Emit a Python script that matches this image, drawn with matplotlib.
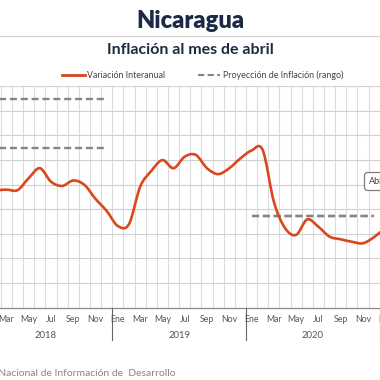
import matplotlib
matplotlib.use("Agg")
import matplotlib.pyplot as plt
from matplotlib.path import Path
from matplotlib.patches import PathPatch, FancyBboxPatch
from matplotlib.lines import Line2D
import matplotlib.transforms as mtransforms

plt.rcParams['font.family'] = ['Lato', 'DejaVu Sans']

# monthly data, Ene 2018 .. Ene 2021
meses = ['Ene', 'Feb', 'Mar', 'Abr', 'May', 'Jun', 'Jul', 'Ago', 'Sep', 'Oct', 'Nov', 'Dic']
anios = ['2018', '2019', '2020']
variacion = [4.83, 4.78, 4.80, 4.78, 5.27, 5.67, 5.12, 4.95, 5.17, 4.99, 4.42, 3.93,
             3.32, 3.40, 4.92, 5.56, 6.00, 5.67, 6.14, 6.21, 5.67, 5.43, 5.67, 6.07,
             6.39, 6.41, 4.31, 3.24, 2.96, 3.59, 3.29, 2.89, 2.78, 2.68, 2.62, 2.87,
             3.24]
# projection range (month index start, end, low, high)
proy_2018 = (0, 11, 6.49, 8.50)
proy_2020 = (24, 35, 3.73, 3.73)

naranja = '#d9481c'
gris_proy = '#858585'
azul = '#1c2a44'

fig = plt.figure(figsize=(3.8, 3.8), dpi=100)
ax = fig.add_axes([0.0, 0.1903, 1.0, 0.5826])
ax.set_xlim(1.418, 35.53)
ax.set_ylim(0, 9)

# grid
for k in range(-1, 37):
    ax.axvline(k + 0.5, color='#dcdcdc', lw=0.8, zorder=0)
for v in range(1, 10):
    ax.axhline(v, color='#d0d0d0', lw=0.8, zorder=0)
for s in ['top', 'left', 'right']:
    ax.spines[s].set_visible(False)
ax.spines['bottom'].set_color('#8c8c8c')
ax.spines['bottom'].set_linewidth(0.9)
ax.set_xticks([])
ax.set_yticks([])

# smooth line like the spreadsheet (bezier through the points)
xs = list(range(len(variacion)))
verts = [(xs[0], variacion[0])]
codes = [Path.MOVETO]
n = len(variacion)
for i in range(n - 1):
    p0 = (xs[max(i - 1, 0)], variacion[max(i - 1, 0)])
    p1 = (xs[i], variacion[i])
    p2 = (xs[i + 1], variacion[i + 1])
    p3 = (xs[min(i + 2, n - 1)], variacion[min(i + 2, n - 1)])
    c1 = (p1[0] + (p2[0] - p0[0]) / 6, p1[1] + (p2[1] - p0[1]) / 6)
    c2 = (p2[0] - (p3[0] - p1[0]) / 6, p2[1] - (p3[1] - p1[1]) / 6)
    verts += [c1, c2, p2]
    codes += [Path.CURVE4] * 3
ax.add_patch(PathPatch(Path(verts, codes), facecolor='none', edgecolor=naranja,
                       lw=1.9, capstyle='round', joinstyle='round', zorder=3))

for a, b, lo, hi in [proy_2018, proy_2020]:
    for yv in (lo, hi):
        ax.plot([a, b], [yv, yv], color=gris_proy, lw=1.7,
                linestyle=(0, (3, 1.6)), zorder=2)

# x labels
trans = mtransforms.blended_transform_factory(ax.transData, fig.transFigure)
for m in range(0, 37, 2):
    fig.text(m, 1 - 320 / 380, meses[m % 12], transform=trans, fontsize=6.3,
             color='#555555', ha='center', va='center')
for j, an in enumerate(anios):
    fig.text(j * 12 + 5.5, 1 - 336 / 380, an, transform=trans, fontsize=6.8,
             color='#555555', ha='center', va='center')
for sep in [-0.5, 11.5, 23.5, 35.5]:
    fig.add_artist(Line2D([sep, sep], [1 - 307.7 / 380, 1 - 340 / 380],
                          transform=trans, color='#666666', lw=0.8))

# annotation box cut at the right edge
fig.add_artist(FancyBboxPatch((364.5 / 380, 1 - 190.5 / 380), 40 / 380, 18 / 380,
                              boxstyle='round,pad=0,rounding_size=0.008',
                              transform=fig.transFigure, facecolor='white',
                              edgecolor='#7f7f7f', lw=0.9, zorder=5))
fig.text(369 / 380, 1 - 181.5 / 380, 'Abril', fontsize=6.5, color='#444444',
         ha='left', va='center', zorder=6)

# titles
fig.text(0.5, 1 - 21 / 380, 'Nicaragua', fontsize=17, fontweight='heavy',
         color=azul, ha='center', va='center')
fig.add_artist(Line2D([0, 1], [1 - 36 / 380, 1 - 36 / 380], color='#d0d0d0', lw=0.8))
fig.text(0.5, 1 - 50 / 380, 'Inflación al mes de abril', fontsize=11.5,
         fontweight='bold', color=azul, ha='center', va='center')

# legend
ly = 1 - 75 / 380
fig.add_artist(Line2D([62 / 380, 85 / 380], [ly, ly], color=naranja, lw=2))
fig.text(87 / 380, ly, 'Variación Interanual', fontsize=6.4, color='#444444',
         ha='left', va='center')
fig.add_artist(Line2D([198 / 380, 220 / 380], [ly, ly], color=gris_proy, lw=1.5,
                      linestyle=(0, (3, 1.6))))
fig.text(223 / 380, ly, 'Proyección de Inflación (rango)', fontsize=6.4,
         color='#444444', ha='left', va='center')

# source
fig.text(175 / 380, 1 - 373 / 380,
         'Fuente: Instituto Nacional de Información de  Desarrollo',
         fontsize=7.5, color='#8a8585', ha='right', va='center')

fig.savefig('out.png', dpi=100)
